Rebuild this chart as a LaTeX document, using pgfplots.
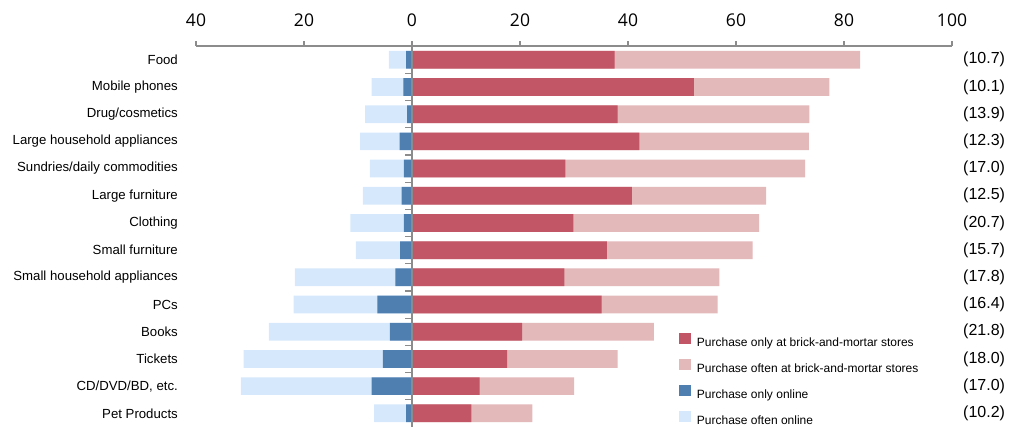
\documentclass[border=0pt]{standalone}
\usepackage{pgfplots}
\usepackage{pgfplotstable}
\pgfplotsset{compat=1.18}
\usepackage{fontspec}
\setmainfont{Liberation Sans}
\newfontfamily\tickfont{Open Sans}
\definecolor{dred}{HTML}{C25566}
\definecolor{lred}{HTML}{E3B9BA}
\definecolor{dblue}{HTML}{4F7FB1}
\definecolor{lblue}{HTML}{D6E9FC}
\definecolor{axgray}{HTML}{8C8C8C}

\pgfplotstableread{
idx lb    db    lr    dr    share
0   -4.3  -1.1  83.0  37.5  10.7
1   -7.5  -1.6  77.3  52.2  10.1
2   -8.7  -0.9  73.6  38.1  13.9
3   -9.6  -2.3  73.5  42.1  12.3
4   -7.8  -1.5  72.8  28.4  17.0
5   -9.1  -1.9  65.6  40.7  12.5
6   -11.4 -1.5  64.3  29.9  20.7
7   -10.4 -2.2  63.1  36.1  15.7
8   -21.7 -3.1  56.9  28.2  17.8
9   -21.9 -6.4  56.6  35.1  16.4
10  -26.5 -4.1  44.8  20.4  21.8
11  -31.2 -5.4  38.1  17.6  18.0
12  -31.7 -7.5  30.0  12.5  17.0
13  -7.0  -1.1  22.3  11.0  10.2
}\datatable

\begin{document}
\begin{tikzpicture}
\useasboundingbox (0,0) rectangle (1018pt,-426pt);
\begin{axis}[
  at={(196pt,-46.2pt)}, anchor=north west,
  scale only axis, width=756pt, height=380.7pt,
  xmin=-40, xmax=100, ymin=-0.5, ymax=13.5, y dir=reverse,
  clip=false,
  axis x line*=top, axis y line*=left,
  y axis line style={draw=none},
  x axis line style={axgray, line width=1.5pt},
  xtick={-40,-20,0,20,40,60,80,100},
  xticklabels={40,20,0,20,40,60,80,100},
  xtick style={axgray, line width=1.5pt},
  tick align=outside, major tick length=5pt,
  xticklabel style={font=\tickfont\fontsize{17.5}{20}\selectfont, text=black, yshift=11pt},
  ytick={0,...,13},
  yticklabels={Food,Mobile phones,Drug/cosmetics,Large household appliances,Sundries/daily commodities,Large furniture,Clothing,Small furniture,Small household appliances,PCs,Books,Tickets,{CD/DVD/BD, etc.},Pet Products},
  ytick style={draw=none},
  yticklabel style={font=\fontsize{13.2}{16}\selectfont, inner sep=0pt, xshift=-13pt},
  reverse legend,
  legend style={at={(axis cs:49.44,10.03)}, anchor=north west, draw=none, fill=none,
    inner sep=0pt, outer sep=0pt, font=\fontsize{12}{14}\selectfont,
    nodes={inner sep=0pt, text height=9pt, text depth=3pt},
    row sep=9.6pt,
    /tikz/every odd column/.append style={column sep=6pt}},
  legend cell align=left,
]
\addplot[xbar, bar width=17.7pt, bar shift=0pt, fill=lblue, draw=none,
  legend image code/.code={\fill[lblue] (0pt,-0.5pt) rectangle (12pt,10.5pt);}]
  table[x=lb, y=idx] {\datatable};
\addlegendentry{Purchase often online}
\addplot[xbar, bar width=17.7pt, bar shift=0pt, fill=dblue, draw=none,
  legend image code/.code={\fill[dblue] (0pt,-0.5pt) rectangle (12pt,10.5pt);}]
  table[x=db, y=idx] {\datatable};
\addlegendentry{Purchase only online}
\addplot[xbar, bar width=17.7pt, bar shift=0pt, fill=lred, draw=none,
  legend image code/.code={\fill[lred] (0pt,-0.5pt) rectangle (12pt,10.5pt);}]
  table[x=lr, y=idx] {\datatable};
\addlegendentry{Purchase often at brick-and-mortar stores}
\addplot[xbar, bar width=17.7pt, bar shift=0pt, fill=dred, draw=none,
  legend image code/.code={\fill[dred] (0pt,-0.5pt) rectangle (12pt,10.5pt);}]
  table[x=dr, y=idx] {\datatable};
\addlegendentry{Purchase only at brick-and-mortar stores}
\draw[axgray, line width=1.5pt] (axis cs:0,-0.5) -- (axis cs:0,13.5);
\pgfplotsinvokeforeach{0,...,12}{
  \draw[axgray, line width=1.2pt] (axis cs:0,#1.5) -- ++(-7pt,0pt);
}
\end{axis}
\begin{axis}[
  at={(196pt,-46.2pt)}, anchor=north west,
  scale only axis, width=756pt, height=380.7pt,
  xmin=-40, xmax=100, ymin=-0.5, ymax=13.5, y dir=reverse,
  axis x line=none, axis y line*=right,
  y axis line style={draw=none},
  ytick={0,...,13},
  yticklabels={(10.7),(10.1),(13.9),(12.3),(17.0),(12.5),(20.7),(15.7),(17.8),(16.4),(21.8),(18.0),(17.0),(10.2)},
  ytick style={draw=none}, major tick length=0pt,
  yticklabel style={font=\fontsize{16}{18}\selectfont, inner sep=0pt, anchor=west, xshift=11pt},
]
\addplot[draw=none] coordinates {(0,0)};
\end{axis}
\end{tikzpicture}
\end{document}
